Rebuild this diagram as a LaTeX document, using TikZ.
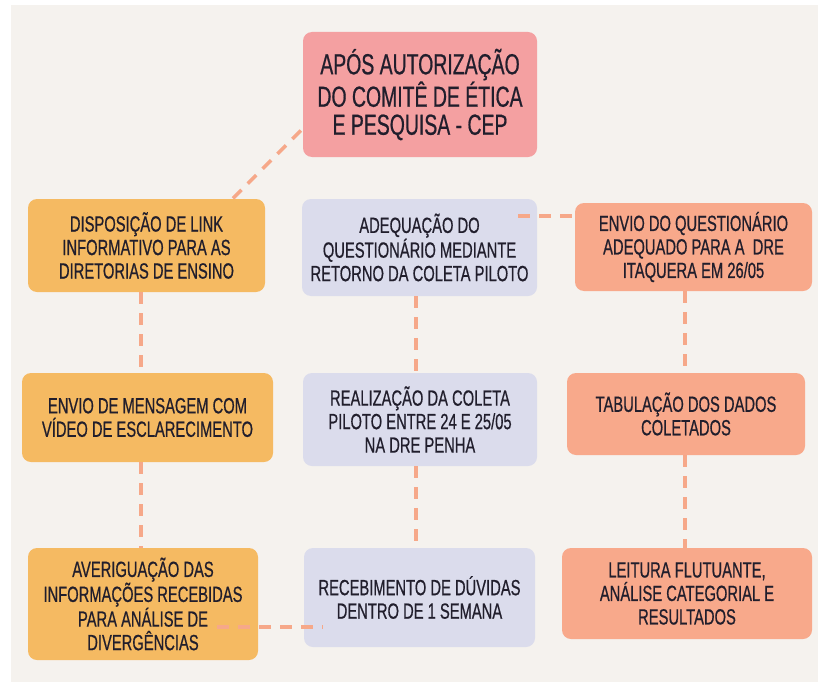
\documentclass[tikz,border=0pt]{standalone}
\usepackage{fontspec}
\setmainfont{Liberation Sans}[FakeStretch=0.67,FakeBold=0.6]
\usepackage{xcolor}
\usepackage{tikz}
\usetikzlibrary{calc}
\definecolor{fundo}{HTML}{F5F2EE}
\definecolor{rosa}{HTML}{F4A0A1}
\definecolor{laranja}{HTML}{F5BA62}
\definecolor{lilas}{HTML}{DBDCEC}
\definecolor{salmao}{HTML}{F8A98B}
\definecolor{tracejado}{HTML}{F6A889}
\definecolor{tinta}{HTML}{211E2C}
\tikzset{
  caixa/.style={rounded corners=9pt, inner sep=0pt, align=center, text=tinta, font=\fontsize{22}{23.5}\selectfont},
  ligacao/.style={tracejado, line width=3.5pt, dash pattern=on 12pt off 9pt}
}

\begin{document}
\begin{tikzpicture}[x=1pt,y=-1pt]
\useasboundingbox (0,0) rectangle (818,682);
\fill[white] (0,0) rectangle (818,682);
\fill[fundo] (11,5) rectangle (818,682);

\node[caixa, fill=rosa, minimum width=234pt, minimum height=125pt, font=\fontsize{29}{28}\selectfont] (cep) at (420,94.5) {APÓS AUTORIZAÇÃO\\DO COMITÊ DE ÉTICA\\E PESQUISA - CEP};

\node[caixa, fill=laranja, minimum width=237pt, minimum height=93pt] (disp) at (146.5,245.5) {DISPOSIÇÃO DE LINK\\INFORMATIVO PARA AS\\DIRETORIAS DE ENSINO};
\node[caixa, fill=lilas, minimum width=235pt, minimum height=97pt] (adeq) at (419.5,247.5) {ADEQUAÇÃO DO\\QUESTIONÁRIO MEDIANTE\\RETORNO DA COLETA PILOTO};
\node[caixa, fill=salmao, minimum width=237pt, minimum height=88pt] (envio) at (693.5,247) {ENVIO DO QUESTIONÁRIO\\ADEQUADO PARA A \ DRE\\ITAQUERA EM 26/05};

\node[caixa, fill=laranja, minimum width=251pt, minimum height=89pt] (msg) at (147.5,417.5) {ENVIO DE MENSAGEM COM\\VÍDEO DE ESCLARECIMENTO};
\node[caixa, fill=lilas, minimum width=234pt, minimum height=93pt] (real) at (420,419.5) {REALIZAÇÃO DA COLETA\\PILOTO ENTRE 24 E 25/05\\NA DRE PENHA};
\node[caixa, fill=salmao, minimum width=238pt, minimum height=82pt] (tab) at (686,414) {TABULAÇÃO DOS DADOS\\COLETADOS};

\node[caixa, fill=laranja, minimum width=230pt, minimum height=112pt] (averig) at (143,604) {AVERIGUAÇÃO DAS\\INFORMAÇÕES RECEBIDAS\\PARA ANÁLISE DE\\DIVERGÊNCIAS};
\node[caixa, fill=lilas, minimum width=231pt, minimum height=99pt] (receb) at (419.5,597.5) {RECEBIMENTO DE DÚVIDAS\\DENTRO DE 1 SEMANA};
\node[caixa, fill=salmao, minimum width=250pt, minimum height=91pt] (leit) at (687,593.5) {LEITURA FLUTUANTE,\\ANÁLISE CATEGORIAL E\\RESULTADOS};

\draw[ligacao] ($(cep.west)+(-2,36)$) -- ($(disp.north)+(86,0)$);
\draw[ligacao] ($(disp.south)+(-5.5,0)$) -- ($(disp.south |- msg.north)+(-5.5,0)$);
\draw[ligacao] ($(msg.south)+(-6.5,0)$) -- ($(msg.south |- averig.north)+(-6.5,0)$);
\draw[ligacao] ($(adeq.south)+(-3.5,0)$) -- ($(adeq.south |- real.north)+(-3.5,0)$);
\draw[ligacao] ($(real.south)+(-4,0)$) -- ($(real.south |- receb.north)+(-4,0)$);
\draw[ligacao] ($(envio.south)+(-8.5,0)$) -- ($(envio.south |- tab.north)+(-8.5,0)$);
\draw[ligacao] ($(tab.south)+(-1,0)$) -- ($(tab.south |- leit.north)+(-1,0)$);
\draw[ligacao] ($(adeq.east)+(-19,-31.5)$) -- ($(adeq.east -| envio.west)+(0,-31.5)$);
\draw[ligacao] ($(averig.east)+(-41,23)$) -- ($(averig.east -| receb.west)+(19,23)$);
\end{tikzpicture}
\end{document}
